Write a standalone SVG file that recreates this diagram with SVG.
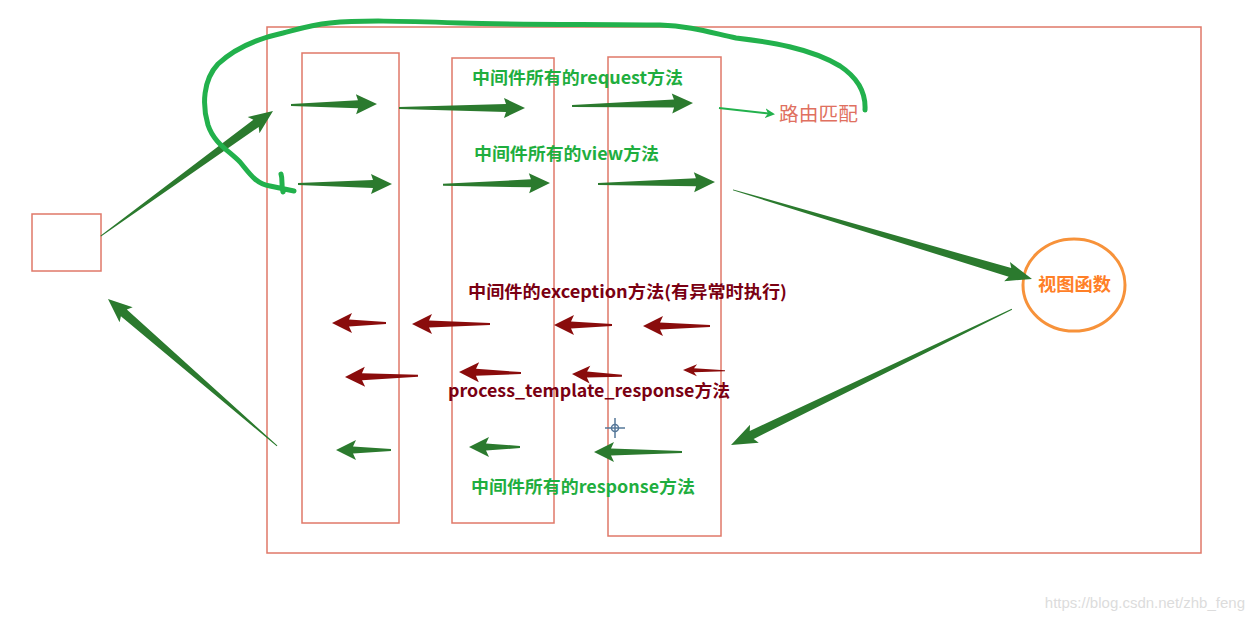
<svg xmlns="http://www.w3.org/2000/svg" width="1254" height="621" viewBox="0 0 1254 621">
<style>
.box{fill:none;stroke:#e07868;stroke-width:1.5}
.ga{fill:#2b7a2e}
.ra{fill:#8a0c0c}
.gt{font-family:"Noto Sans CJK SC","Liberation Sans",sans-serif;font-weight:bold;font-size:17px;fill:#1fae3f}
.rt{font-family:"Noto Sans CJK SC","Liberation Sans",sans-serif;font-weight:bold;font-size:17px;fill:#7a0012}
</style>
<defs>
<marker id="tri" markerWidth="10" markerHeight="10" refX="8" refY="5" orient="auto" markerUnits="userSpaceOnUse">
<path d="M0,0 L10,5 L0,10 L3,5 Z" fill="#22b14c"/>
</marker>
</defs>
<rect width="1254" height="621" fill="#ffffff"/>

<g id="outer"><rect class="box" x="267" y="27" width="934" height="526"/></g>
<g id="col1"><rect class="box" x="302" y="53" width="97" height="470"/></g>
<g id="col2"><rect class="box" x="452" y="58" width="102" height="465"/></g>
<g id="col3"><rect class="box" x="608" y="57" width="113" height="479"/></g>
<g id="client"><rect class="box" x="32" y="214" width="69" height="57"/></g>
<g id="view-func">
<ellipse cx="1074" cy="285" rx="51" ry="46" fill="none" stroke="#f7923a" stroke-width="3"/>
<text x="1038" y="291" textLength="73" lengthAdjust="spacingAndGlyphs" font-family="Noto Sans CJK SC, Liberation Sans, sans-serif" font-weight="bold" font-size="18" fill="#ff7f27">视图函数</text>
</g>
<g id="route-match">
<text x="779" y="121" textLength="79" lengthAdjust="spacingAndGlyphs" font-family="Noto Sans CJK SC, Liberation Sans, sans-serif" font-size="19" fill="#e07060">路由匹配</text>
</g>

<g id="labels">
<text class="gt" x="472" y="84" textLength="211" lengthAdjust="spacingAndGlyphs">中间件所有的request方法</text>
<text class="gt" x="474" y="160" textLength="185" lengthAdjust="spacingAndGlyphs">中间件所有的view方法</text>
<text class="rt" x="468" y="298" textLength="319" lengthAdjust="spacingAndGlyphs">中间件的exception方法(有异常时执行)</text>
<text class="rt" x="448" y="397" textLength="282" lengthAdjust="spacingAndGlyphs">process_template_response方法</text>
<text class="gt" x="471" y="493" textLength="224" lengthAdjust="spacingAndGlyphs">中间件所有的response方法</text>
</g>

<g id="connectors">
<!-- row 1 request -->
<polygon class="ga" transform="translate(377,104) rotate(-0.7)" points="0,0 -21,-10 -19,-4 -86,-1 -86,1 -19,4 -21,10"/>
<polygon class="ga" transform="translate(525,108)" points="0,0 -21,-10 -19,-4 -126,-1 -126,1 -19,4 -21,10"/>
<polygon class="ga" transform="translate(693,103) rotate(-1.4)" points="0,0 -21,-10 -19,-4 -121,-1 -121,1 -19,4 -21,10"/>
<line x1="719" y1="108" x2="773" y2="114" stroke="#22b14c" stroke-width="2" marker-end="url(#tri)"/>
<!-- row 2 view -->
<polygon class="ga" transform="translate(392,184)" points="0,0 -21,-10 -19,-4 -94,-1 -94,1 -19,4 -21,10"/>
<polygon class="ga" transform="translate(550,183) rotate(-1)" points="0,0 -21,-10 -19,-4 -107,-1 -107,1 -19,4 -21,10"/>
<polygon class="ga" transform="translate(715,182) rotate(-1)" points="0,0 -21,-10 -19,-4 -117,-1 -117,1 -19,4 -21,10"/>
<!-- diagonals -->
<polygon class="ga" transform="translate(273,111) rotate(-36)" points="0,0 -24,-10 -21,-4.5 -213,-0.5 -213,0.5 -21,4.5 -24,10"/>
<polygon class="ga" transform="translate(1032,279) rotate(16.6)" points="0,0 -26,-10 -23,-4.5 -312,-0.5 -312,0.5 -23,4.5 -26,10"/>
<polygon class="ga" transform="translate(731,445) rotate(154.2)" points="0,0 -26,-10 -23,-4.5 -312,-0.5 -312,0.5 -23,4.5 -26,10"/>
<polygon class="ga" transform="translate(108,299) rotate(-139)" points="0,0 -24,-10 -21,-4.5 -224,-0.5 -224,0.5 -21,4.5 -24,10"/>
<!-- exception row -->
<polygon class="ra" transform="translate(332,323) rotate(180)" points="0,0 -20,-10 -17,-3.5 -54,-1 -54,1 -17,3.5 -20,10"/>
<polygon class="ra" transform="translate(412,324) rotate(180)" points="0,0 -20,-10 -17,-3.5 -78,-1 -78,1 -17,3.5 -20,10"/>
<polygon class="ra" transform="translate(554,325) rotate(180)" points="0,0 -20,-10 -17,-3.5 -58,-1 -58,1 -17,3.5 -20,10"/>
<polygon class="ra" transform="translate(643,326) rotate(180)" points="0,0 -20,-10 -17,-3.5 -67,-1 -67,1 -17,3.5 -20,10"/>
<!-- template row -->
<polygon class="ra" transform="translate(345,377) rotate(179)" points="0,0 -20,-10 -17,-3.5 -73,-1 -73,1 -17,3.5 -20,10"/>
<polygon class="ra" transform="translate(459,372) rotate(181)" points="0,0 -20,-10 -17,-3.5 -62,-1 -62,1 -17,3.5 -20,10"/>
<polygon class="ra" transform="translate(572,374) rotate(182)" points="0,0 -18,-9 -15,-3 -50,-1 -50,1 -15,3 -18,9"/>
<polygon class="ra" transform="translate(683,370) rotate(181)" points="0,0 -14,-6 -11,-2 -42,-0.5 -42,0.5 -11,2 -14,6"/>
<!-- response row -->
<polygon class="ga" transform="translate(336,450)" points="0,0 20,-10 17,-3.5 55,-1 55,1 17,3.5 20,10"/>
<polygon class="ga" transform="translate(469,447)" points="0,0 20,-10 17,-3.5 51,-1 51,1 17,3.5 20,10"/>
<polygon class="ga" transform="translate(594,452)" points="0,0 20,-10 17,-3.5 88,-1 88,1 17,3.5 20,10"/>
<!-- hand-drawn loop -->
<path d="M865,110 C866,92 858,78 840,66 C810,48 770,42 736,38 C712,33 690,26 660,25 C600,24 520,25 460,23 C400,21 360,20 330,23 C310,25 295,30 283,33 C260,38 235,48 218,64 C203,80 202,105 208,125 C214,143 228,150 240,162 C250,174 256,184 270,186 L294,191 M281,174 C283,180 281,186 283,192" fill="none" stroke="#22b14c" stroke-width="5" stroke-linecap="round" stroke-linejoin="round"/>
</g>

<g id="cursor" stroke="#557799" stroke-width="1.5" fill="none">
<circle cx="615" cy="428" r="3.5"/>
<line x1="615" y1="418" x2="615" y2="438"/>
<line x1="605" y1="428" x2="625" y2="428"/>
</g>

<g id="watermark">
<text x="1245" y="608" text-anchor="end" font-family="Liberation Sans, Arial, sans-serif" font-size="15" fill="#dcdcdc">https://blog.csdn.net/zhb_feng</text>
</g>
</svg>
